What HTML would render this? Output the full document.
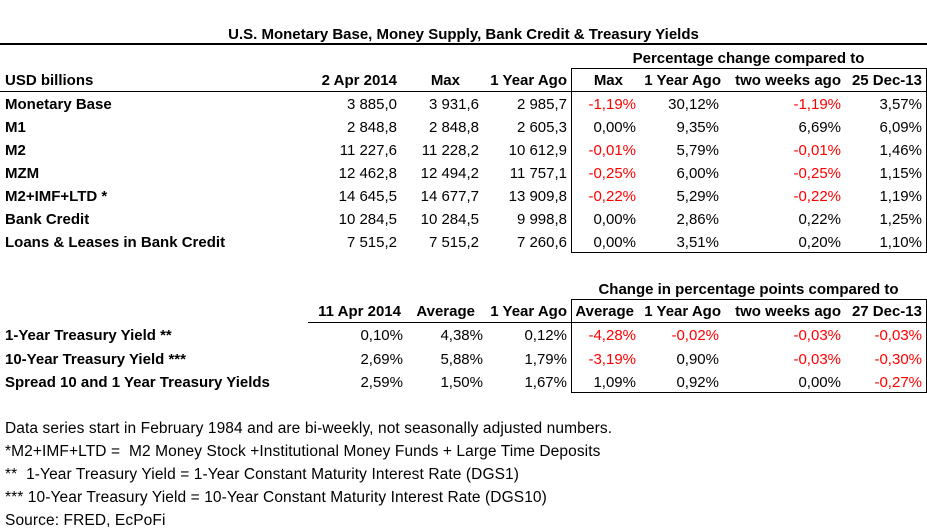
<!DOCTYPE html>
<html><head><meta charset="utf-8"><style>
body{margin:0;width:927px;height:532px;background:#fff;font-family:"Liberation Sans",sans-serif;font-size:15px;color:#000;position:relative;overflow:hidden}
.t{position:absolute;white-space:nowrap;line-height:20px;height:20px;letter-spacing:0;margin-top:2px}
.b{font-weight:bold}
.n{font-size:15.5px;letter-spacing:0.1px}
.red{color:#ff0000}
.ln{position:absolute;background:#000}
</style></head><body>
<div class="t b" style="left:0;width:927px;text-align:center;top:23px">U.S. Monetary Base, Money Supply, Bank Credit &amp; Treasury Yields</div>
<div class="ln" style="left:0;top:43px;width:927px;height:2px"></div>
<div class="t b" style="left:571px;width:355px;text-align:center;top:47px">Percentage change compared to</div>
<div class="ln" style="left:571px;top:68px;width:356px;height:1px"></div>
<div class="ln" style="left:571px;top:68px;width:1px;height:185px"></div>
<div class="ln" style="left:926px;top:68px;width:1px;height:185px"></div>
<div class="ln" style="left:571px;top:252px;width:356px;height:1px"></div>
<div class="ln" style="left:0;top:91px;width:927px;height:1px"></div>

<div class="t b" style="left:571px;width:355px;text-align:center;top:278px">Change in percentage points compared to</div>
<div class="ln" style="left:571px;top:299px;width:356px;height:1px"></div>
<div class="ln" style="left:571px;top:299px;width:1px;height:94px"></div>
<div class="ln" style="left:926px;top:299px;width:1px;height:94px"></div>
<div class="ln" style="left:571px;top:392px;width:356px;height:1px"></div>
<div class="ln" style="left:308px;top:322px;width:619px;height:1px"></div>

<div class="t n" style="left:5px;top:417px">Data series start in February 1984 and are bi-weekly, not seasonally adjusted numbers.</div>
<div class="t n" style="left:5px;top:440px">*M2+IMF+LTD =&nbsp; M2 Money Stock +Institutional Money Funds + Large Time Deposits</div>
<div class="t n" style="left:5px;top:463px">**&nbsp; 1-Year Treasury Yield = 1-Year Constant Maturity Interest Rate (DGS1)</div>
<div class="t n" style="left:5px;top:486px">*** 10-Year Treasury Yield = 10-Year Constant Maturity Interest Rate (DGS10)</div>
<div class="t n" style="left:5px;top:509px">Source: FRED, EcPoFi</div>

<script>
const headers1=["2 Apr 2014","Max","1 Year Ago","Max","1 Year Ago","two weeks ago","25 Dec-13"];
const rows1=["Monetary Base","M1","M2","MZM","M2+IMF+LTD *","Bank Credit","Loans & Leases in Bank Credit"];
const vals1=[
["3 885,0","3 931,6","2 985,7","-1,19%","30,12%","-1,19%","3,57%"],
["2 848,8","2 848,8","2 605,3","0,00%","9,35%","6,69%","6,09%"],
["11 227,6","11 228,2","10 612,9","-0,01%","5,79%","-0,01%","1,46%"],
["12 462,8","12 494,2","11 757,1","-0,25%","6,00%","-0,25%","1,15%"],
["14 645,5","14 677,7","13 909,8","-0,22%","5,29%","-0,22%","1,19%"],
["10 284,5","10 284,5","9 998,8","0,00%","2,86%","0,22%","1,25%"],
["7 515,2","7 515,2","7 260,6","0,00%","3,51%","0,20%","1,10%"]];
const headers2=["11 Apr 2014","Average","1 Year Ago","Average","1 Year Ago","two weeks ago","27 Dec-13"];
const rows2=["1-Year Treasury Yield **","10-Year Treasury Yield ***","Spread 10 and 1 Year Treasury Yields"];
const vals2=[
["0,10%","4,38%","0,12%","-4,28%","-0,02%","-0,03%","-0,03%"],
["2,69%","5,88%","1,79%","-3,19%","0,90%","-0,03%","-0,30%"],
["2,59%","1,50%","1,67%","1,09%","0,92%","0,00%","-0,27%"]];
const right1=[397,479,567,636,719,841,922];
const hright1=[397,460,567,623,721,841,922];
const right2=[403,483,567,636,719,841,922];
const hright2=[401,475,567,634,721,841,922];
function put(txt,x,y,cls,name,alignRight){
  const d=document.createElement('div');
  d.className='t '+cls;
  d.textContent=txt;
  if(alignRight){d.style.right=(927-x)+'px';}else{d.style.left=x+'px';}
  d.style.top=(y-10)+'px';
  
  
  document.body.appendChild(d);
}
function isNeg(s){return s.charAt(0)==='-';}
put("USD billions",5,79,'b','header-usd-billions',false);
headers1.forEach((h,i)=>put(h,hright1[i],79,'b','header1-col-'+i,true));
rows1.forEach((r,ri)=>{
  const y=103+ri*23;
  put(r,5,y,'b','row-label-'+ri,false);
  vals1[ri].forEach((v,ci)=>put(v,right1[ci],y,(ci>=3&&isNeg(v))?'red':'','cell1-'+ri+'-'+ci,true));
});
headers2.forEach((h,i)=>put(h,hright2[i],310,'b','header2-col-'+i,true));
rows2.forEach((r,ri)=>{
  const y=334+ri*23.5;
  put(r,5,y,'b','yield-row-label-'+ri,false);
  vals2[ri].forEach((v,ci)=>put(v,right2[ci],y,(ci>=3&&isNeg(v))?'red':'','cell2-'+ri+'-'+ci,true));
});
</script>
</body></html>
